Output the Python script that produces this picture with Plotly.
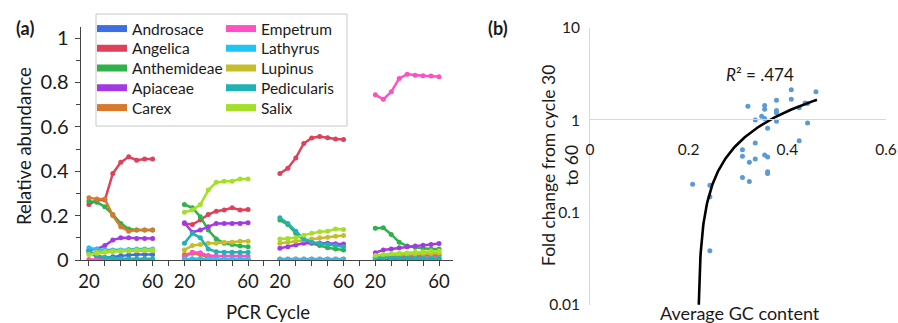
import plotly.graph_objects as go

# ---------------- data: panel (a) ----------------
CYCLES = [20, 25, 30, 35, 40, 45, 50, 55, 60]
SPECIES = ["Androsace", "Angelica", "Anthemideae", "Apiaceae", "Carex",
           "Empetrum", "Lathyrus", "Lupinus", "Pedicularis", "Salix"]
COLORS = ["#3d6fe3", "#de4159", "#2fb24a", "#a23ae4", "#d8792b",
          "#ff4fc3", "#20c6f3", "#c6bd2c", "#21b3b3", "#a5df2a"]

ANDROSACE = [[0.040, 0.012, 0.010, 0.015, 0.020, 0.022, 0.025, 0.025, 0.025],
             [0.000, 0.004, 0.004, 0.000, 0.000, 0.000, 0.000, 0.000, 0.000],
             [0.001, 0.001, 0.001, 0.001, 0.001, 0.001, 0.001, 0.001, 0.001],
             [0.005, 0.005, 0.005, 0.005, 0.005, 0.005, 0.005, 0.005, 0.005]]
ANGELICA = [[0.250, 0.270, 0.270, 0.390, 0.440, 0.465, 0.450, 0.455, 0.455],
            [0.165, 0.160, 0.180, 0.205, 0.220, 0.225, 0.235, 0.225, 0.228],
            [0.390, 0.413, 0.460, 0.525, 0.550, 0.556, 0.551, 0.545, 0.543],
            [0.010, 0.012, 0.015, 0.015, 0.018, 0.020, 0.020, 0.020, 0.020]]
ANTHEMIDEAE = [[0.265, 0.260, 0.240, 0.205, 0.165, 0.140, 0.135, 0.135, 0.135],
               [0.250, 0.235, 0.195, 0.135, 0.095, 0.075, 0.070, 0.063, 0.060],
               [0.180, 0.160, 0.120, 0.090, 0.075, 0.065, 0.055, 0.050, 0.045],
               [0.143, 0.145, 0.115, 0.080, 0.063, 0.057, 0.053, 0.050, 0.050]]
APIACEAE = [[0.045, 0.050, 0.065, 0.090, 0.100, 0.100, 0.097, 0.097, 0.097],
            [0.168, 0.125, 0.135, 0.150, 0.165, 0.165, 0.165, 0.165, 0.168],
            [0.053, 0.060, 0.068, 0.075, 0.077, 0.077, 0.075, 0.073, 0.072],
            [0.033, 0.045, 0.050, 0.055, 0.060, 0.063, 0.067, 0.070, 0.074]]
CAREX = [[0.280, 0.275, 0.275, 0.200, 0.150, 0.130, 0.135, 0.135, 0.135],
         [0.025, 0.030, 0.025, 0.010, 0.005, 0.005, 0.005, 0.005, 0.005],
         [0.004, 0.004, 0.004, 0.004, 0.004, 0.004, 0.004, 0.004, 0.004],
         [0.020, 0.020, 0.022, 0.022, 0.022, 0.022, 0.025, 0.025, 0.025]]
EMPETRUM = [[0.002, 0.002, 0.002, 0.002, 0.002, 0.002, 0.002, 0.002, 0.002],
            [0.012, 0.035, 0.033, 0.020, 0.018, 0.018, 0.018, 0.018, 0.018],
            [0.003, 0.003, 0.003, 0.003, 0.003, 0.003, 0.003, 0.003, 0.003],
            [0.745, 0.724, 0.758, 0.818, 0.837, 0.833, 0.830, 0.829, 0.826]]
LATHYRUS = [[0.055, 0.048, 0.045, 0.045, 0.045, 0.047, 0.050, 0.050, 0.050],
            [0.005, 0.005, 0.005, 0.005, 0.005, 0.005, 0.005, 0.005, 0.005],
            [0.002, 0.002, 0.002, 0.002, 0.002, 0.002, 0.002, 0.002, 0.002],
            [0.010, 0.010, 0.008, 0.008, 0.008, 0.008, 0.008, 0.008, 0.008]]
LUPINUS = [[0.030, 0.035, 0.038, 0.040, 0.040, 0.040, 0.042, 0.042, 0.042],
           [0.045, 0.065, 0.070, 0.075, 0.075, 0.080, 0.080, 0.085, 0.085],
           [0.075, 0.080, 0.085, 0.090, 0.095, 0.100, 0.102, 0.107, 0.110],
           [0.015, 0.020, 0.022, 0.025, 0.027, 0.028, 0.030, 0.030, 0.032]]
PEDICULARIS = [[0.040, 0.020, 0.012, 0.008, 0.006, 0.006, 0.006, 0.006, 0.006],
               [0.075, 0.120, 0.100, 0.050, 0.037, 0.035, 0.035, 0.035, 0.035],
               [0.190, 0.165, 0.130, 0.095, 0.080, 0.075, 0.070, 0.065, 0.060],
               [0.012, 0.010, 0.010, 0.008, 0.008, 0.006, 0.006, 0.006, 0.006]]
SALIX = [[0.025, 0.030, 0.035, 0.037, 0.040, 0.042, 0.045, 0.045, 0.045],
         [0.215, 0.225, 0.250, 0.315, 0.350, 0.355, 0.355, 0.365, 0.365],
         [0.095, 0.097, 0.100, 0.112, 0.120, 0.127, 0.130, 0.140, 0.137],
         [0.020, 0.025, 0.028, 0.030, 0.032, 0.035, 0.037, 0.040, 0.040]]
SERIES = [ANDROSACE, ANGELICA, ANTHEMIDEAE, APIACEAE, CAREX,
          EMPETRUM, LATHYRUS, LUPINUS, PEDICULARIS, SALIX]

# ---------------- data: panel (b) ----------------
GC_CONTENT = [0.208, 0.243, 0.243, 0.243, 0.320, 0.309, 0.309, 0.309, 0.323, 0.323,
              0.335, 0.335, 0.335, 0.348, 0.354, 0.354, 0.354, 0.354, 0.360, 0.360,
              0.360, 0.360, 0.378, 0.378, 0.378, 0.378, 0.408, 0.408, 0.424, 0.424,
              0.436, 0.441, 0.458, 0.441]
FOLD_CHANGE = [0.203, 0.198, 0.149, 0.0386, 1.42, 0.481, 0.408, 0.240, 0.351, 0.217,
               1.01, 0.569, 0.382, 1.11, 1.45, 1.32, 1.05, 0.421, 0.819, 0.401,
               0.278, 0.265, 1.65, 1.28, 1.21, 0.98, 2.14, 1.69, 1.37, 0.602,
               1.54, 0.935, 2.04, 1.52]
TREND_SLOPE = 6.93
TREND_INTERCEPT = -1.518
TREND_X_START = 0.2205
TREND_X_END = 0.460
R2_TEXT = "<i>R</i>² = .474"

# ---------------- layout helpers ----------------
W, H = 898, 323
GROUP_OFFSET = 60
FONT = "Lato"
TXT = "#1a1a1a"


def fx(p):
    return p / W


def fy(p):
    return 1 - p / H


fig = go.Figure()

# panel (a) lines
for name, color, groups in zip(SPECIES, COLORS, SERIES):
    xs, ys = [], []
    for g, vals in enumerate(groups):
        xs += [c + g * GROUP_OFFSET for c in CYCLES] + [None]
        ys += list(vals) + [None]
    fig.add_trace(go.Scatter(
        x=xs, y=ys, mode="lines+markers", name=name, showlegend=False,
        line=dict(color=color, width=2.5), marker=dict(color=color, size=5),
        xaxis="x", yaxis="y", hoverinfo="skip"))

# legend entries: one small legend per entry, laid out in two columns
legend_layouts = {}
for i, (name, color) in enumerate(zip(SPECIES, COLORS)):
    key = "legend" if i == 0 else f"legend{i + 1}"
    col, row = divmod(i, 5)
    fig.add_trace(go.Scatter(
        x=[None], y=[None], mode="lines", name=name,
        line=dict(color=color, width=7), xaxis="x", yaxis="y", legend=key))
    legend_layouts[key] = dict(
        x=fx(92 + col * 129), y=fy(29 + row * 19.75),
        xanchor="left", yanchor="middle", orientation="v",
        font=dict(family=FONT, size=15.5, color=TXT),
        bgcolor="rgba(0,0,0,0)", borderwidth=0, itemwidth=30)

# panel (b)
fig.add_trace(go.Scatter(
    x=GC_CONTENT, y=FOLD_CHANGE, mode="markers", showlegend=False,
    marker=dict(color="#5b9bd5", size=5), xaxis="x2", yaxis="y2"))

n = 120
tx = [TREND_X_START + (TREND_X_END - TREND_X_START) * (k / (n - 1)) ** 2 for k in range(n)]
ty = [TREND_SLOPE * v + TREND_INTERCEPT for v in tx]
fig.add_trace(go.Scatter(
    x=tx, y=ty, mode="lines", showlegend=False,
    line=dict(color="black", width=2.6), xaxis="x2", yaxis="y2"))

# x ticks for panel (a)
a_tickvals = list(range(20, 20 + 3 * GROUP_OFFSET + 41, 10))
a_ticktext = []
for v in a_tickvals:
    r = (v - 20) % GROUP_OFFSET
    a_ticktext.append("20" if r == 0 else ("60" if r == 40 else ""))


def ann(text, x, y, size, angle=0):
    return dict(text=text, x=fx(x), y=fy(y), xref="paper", yref="paper",
                xanchor="center", yanchor="middle", showarrow=False,
                textangle=angle, font=dict(family=FONT, size=size, color=TXT))


fig.update_layout(
    width=W, height=H,
    margin=dict(l=0, r=0, t=0, b=0, autoexpand=False),
    paper_bgcolor="white", plot_bgcolor="white",
    font=dict(family=FONT, color=TXT),
    xaxis=dict(domain=[fx(80.5), fx(453)], range=[14.7, 248.8], automargin=False,
               showline=True, linecolor="#444", linewidth=1,
               tickmode="array", tickvals=a_tickvals, ticktext=a_ticktext,
               ticks="outside", ticklen=5, tickcolor="#444",
               tickfont=dict(family=FONT, size=18.5, color=TXT),
               showgrid=False, zeroline=False, anchor="y"),
    yaxis=dict(domain=[fy(260), fy(27)], range=[0, 1.05], automargin=False,
               showline=True, linecolor="#444", linewidth=1,
               tickmode="array", tickvals=[0, 0.2, 0.4, 0.6, 0.8, 1],
               ticktext=["0", "0.2", "0.4", "0.6", "0.8", "1"],
               ticks="outside", ticklen=5, tickcolor="#444",
               minor=dict(tickmode="array", tickvals=[0.1, 0.3, 0.5, 0.7, 0.9],
                          ticks="outside", ticklen=4, tickcolor="#444"),
               ticklabelstandoff=2,
               tickfont=dict(family=FONT, size=20, color=TXT),
               showgrid=False, zeroline=False, anchor="x"),
    xaxis2=dict(domain=[fx(590), fx(886)], range=[0, 0.6], automargin=False,
                anchor="free", position=fy(119.3),
                showline=True, linecolor="#d9d9d9", linewidth=1,
                tickmode="array", tickvals=[0, 0.2, 0.4, 0.6],
                ticktext=["0", "0.2", "0.4", "0.6"], ticks="",
                ticklabelstandoff=16,
                tickfont=dict(family=FONT, size=15.5, color=TXT),
                showgrid=False, zeroline=False),
    yaxis2=dict(domain=[fy(305), fy(28)], type="log", range=[-2, 1], automargin=False,
                anchor="x2", showline=True, linecolor="#d9d9d9", linewidth=1,
                tickmode="array", tickvals=[0.01, 0.1, 1, 10],
                ticktext=["0.01", "0.1", "1", "10"], ticks="",
                ticklabelstandoff=6,
                tickfont=dict(family=FONT, size=15.5, color=TXT),
                showgrid=False, zeroline=False),
    shapes=[dict(type="rect", xref="paper", yref="paper",
                 x0=fx(96), x1=fx(347), y0=fy(126), y1=fy(14),
                 line=dict(color="#c8c8c8", width=1), fillcolor="rgba(0,0,0,0)")],
    annotations=[
        ann("<b>(a)</b>", 25, 28, 18),
        ann("<b>(b)</b>", 498, 28, 18),
        ann(R2_TEXT, 760, 74, 17),
        ann("Relative abundance", 24, 146, 18.5, -90),
        ann("PCR Cycle", 268, 312, 18.5),
        ann("Fold change from cycle 30<br>to 60", 560, 166, 17.5, -90),
        ann("Average GC content", 740, 313, 18),
    ],
    **legend_layouts,
)

fig.write_html("out.html", config={"displayModeBar": False},
               post_script="document.body.style.margin='0';document.body.style.padding='0';")
